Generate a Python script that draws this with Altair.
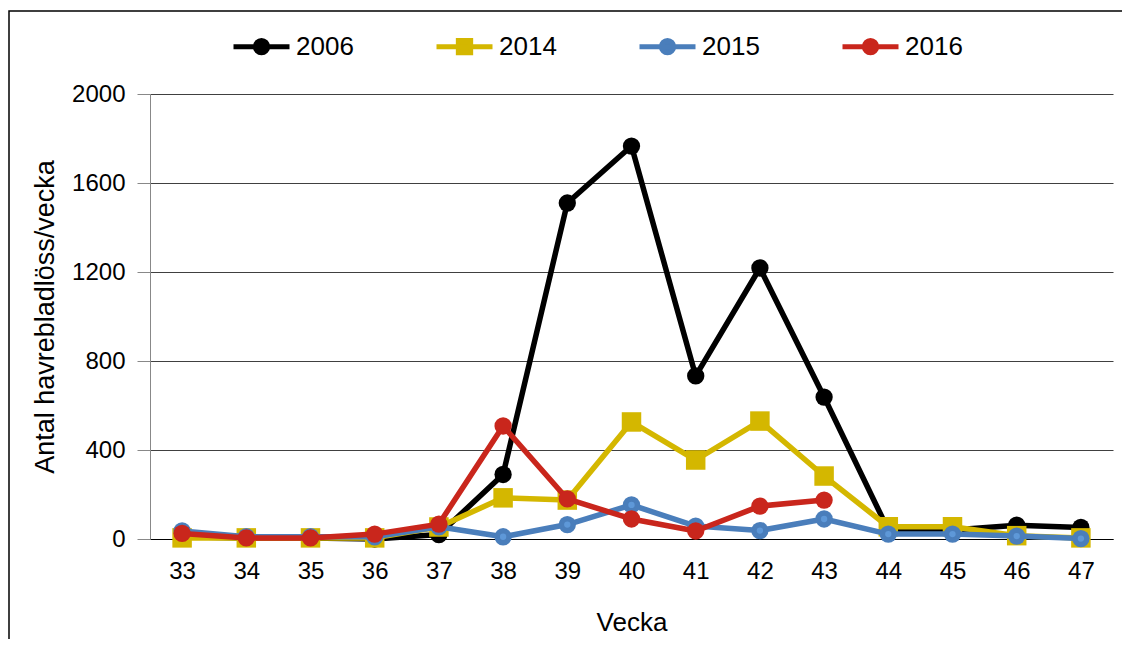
import altair as alt
import pandas as pd

weeks = [33, 34, 35, 36, 37, 38, 39, 40, 41, 42, 43, 44, 45, 46, 47]
v2006 = [10, 5, 5, 0, 20, 290, 1510, 1766, 733, 1218, 638, 40, 40, 62, 52]
v2014 = [5, 5, 5, 5, 54, 185, 175, 526, 355, 530, 283, 55, 55, 15, 5]
v2015 = [36, 10, 10, 10, 55, 10, 65, 153, 58, 38, 90, 22, 22, 13, 2]
v2016 = [25, 5, 5, 22, 67, 508, 180, 90, 36, 148, 175, None, None, None, None]

years = ["2006", "2014", "2015", "2016"]
colors = ["#000000", "#D4B700", "#4A7EBB", "#C9261C"]
shapes = ["circle", "square", "circle", "circle"]
sizes = [300, 380, 300, 300]
y_ticks = [0, 400, 800, 1200, 1600, 2000]

legend_paths = [
    "M-1,0H1M-0.22,0A0.22,0.22 0 1,1 0.22,0A0.22,0.22 0 1,1 -0.22,0Z",
    "M-1,0H1M-0.22,-0.22H0.22V0.22H-0.22Z",
    "M-1,0H1M-0.22,0A0.22,0.22 0 1,1 0.22,0A0.22,0.22 0 1,1 -0.22,0Z",
    "M-1,0H1M-0.22,0A0.22,0.22 0 1,1 0.22,0A0.22,0.22 0 1,1 -0.22,0Z",
]

rows = []
for yr, vals in zip(years, [v2006, v2014, v2015, v2016]):
    for w, v in zip(weeks, vals):
        if v is not None:
            rows.append({"Vecka": str(w), "year": yr, "value": v})
df = pd.DataFrame(rows)

FONT = "Liberation Sans"

x_enc = alt.X(
    "Vecka:O",
    sort=[str(w) for w in weeks],
    scale=alt.Scale(type="point", padding=0.5),
    axis=alt.Axis(
        title="Vecka", labelAngle=0, ticks=False, tickSize=0, labelPadding=20,
        domainColor="#000000", domainWidth=1, titlePadding=26, grid=False,
        labelFontSize=24, titleFontSize=26,
    ),
)
y_enc = alt.Y(
    "value:Q",
    scale=alt.Scale(domain=[0, 2000], nice=False),
    axis=alt.Axis(
        title="Antal havrebladlöss/vecka", values=y_ticks, format="d", grid=True,
        gridColor="#404040", gridWidth=1, domainColor="#888888", tickColor="#888888",
        tickSize=13, labelPadding=12, titlePadding=12, labelFontSize=24, titleFontSize=27,
    ),
)

layers = []
for yr, c, sh, sz in zip(years, colors, shapes, sizes):
    base = alt.Chart(df).transform_filter(alt.datum.year == yr)
    layers.append(base.mark_line(color=c, strokeWidth=5.5, strokeJoin="round").encode(x=x_enc, y=y_enc))
    layers.append(base.mark_point(filled=True, color=c, shape=sh, size=sz, opacity=1).encode(x=x_enc, y=y_enc))
    if yr == "2015":
        layers.append(base.mark_point(filled=True, color="#5E98D8", shape="circle", size=40, opacity=1).encode(x=x_enc, y=y_enc))

leg = alt.Legend(
    title=None, orient="none", legendX=81, legendY=-78, direction="horizontal", columns=4,
    columnPadding=72, labelOffset=4, labelFontSize=26, labelFont=FONT, labelColor="#000000",
    symbolSize=3136, symbolStrokeWidth=5, padding=0,
)
legend_layer = alt.Chart(df).transform_filter("false").mark_point(filled=True, strokeWidth=5, opacity=1).encode(
    x=x_enc, y=y_enc,
    fill=alt.Fill("year:N", scale=alt.Scale(domain=years, range=colors), legend=leg),
    stroke=alt.Stroke("year:N", scale=alt.Scale(domain=years, range=colors), legend=leg),
    shape=alt.Shape("year:N", scale=alt.Scale(domain=years, range=legend_paths), legend=leg),
)

frame = alt.Chart(pd.DataFrame({"a": [0]})).mark_rect(fillOpacity=0, stroke="#000000", strokeWidth=1.5).encode(
    x=alt.value(-141), x2=alt.value(1100), y=alt.value(-83), y2=alt.value(700)
)

chart = alt.layer(frame, *layers, legend_layer).properties(
    width=963, height=445,
    autosize=alt.AutoSizeParams(type="none"),
    padding={"left": 142, "top": 86, "right": 9, "bottom": 100},
).configure_view(stroke=None).configure_axis(
    labelFont=FONT, titleFont=FONT,
    titleFontWeight="normal", labelColor="#000000", titleColor="#000000",
)

chart.save("out.html", embed_options={"renderer": "svg", "actions": False})
